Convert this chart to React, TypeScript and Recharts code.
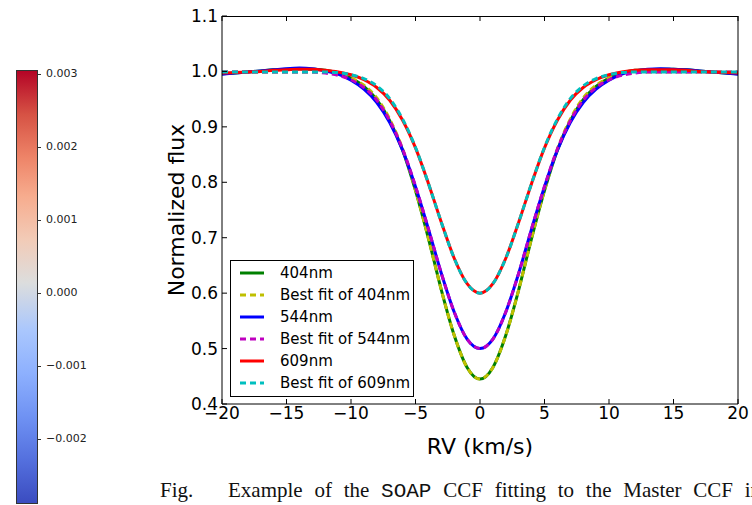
import React from 'react';
import {
  Legend, Line, LineChart, XAxis, YAxis,
} from 'recharts';

// RV grid (km/s)
const rv = [
  -20, -19, -18, -17, -16, -15, -14, -13, -12, -11, -10, -9, -8, -7, -6, -5, -4, -3, -2, -1,
  0, 1, 2, 3, 4, 5, 6, 7, 8, 9, 10, 11, 12, 13, 14, 15, 16, 17, 18, 19, 20,
];

const ccf404 = [
  0.996, 0.997, 0.999, 1.001, 1.003, 1.004, 1.005, 1.004, 1.002, 0.997, 0.988, 0.973, 0.949, 0.911, 0.858, 0.785, 0.699, 0.606, 0.524, 0.466,
  0.445, 0.466, 0.524, 0.606, 0.699, 0.785, 0.858, 0.911, 0.949, 0.973, 0.988, 0.997, 1.002, 1.003, 1.004, 1.004, 1.003, 1.001, 0.999, 0.997, 0.996,
];
const fit404 = [
  0.999, 0.999, 0.999, 0.999, 0.999, 0.999, 0.999, 0.999, 0.998, 0.995, 0.988, 0.975, 0.952, 0.914, 0.860, 0.786, 0.699, 0.606, 0.524, 0.466,
  0.445, 0.466, 0.524, 0.606, 0.699, 0.786, 0.860, 0.914, 0.952, 0.975, 0.988, 0.995, 0.998, 0.999, 0.999, 0.999, 0.999, 0.999, 0.999, 0.999, 0.999,
];

const ccf544 = [
  0.995, 0.997, 0.999, 1.001, 1.003, 1.005, 1.006, 1.005, 1.001, 0.995, 0.984, 0.968, 0.944, 0.908, 0.858, 0.792, 0.716, 0.636, 0.566, 0.517,
  0.500, 0.517, 0.566, 0.636, 0.716, 0.792, 0.858, 0.908, 0.944, 0.968, 0.984, 0.995, 1.001, 1.004, 1.005, 1.004, 1.003, 1.001, 0.999, 0.997, 0.995,
];
const fit544 = [
  0.999, 0.999, 0.999, 0.999, 0.999, 0.999, 0.999, 0.999, 0.997, 0.993, 0.985, 0.971, 0.948, 0.911, 0.860, 0.793, 0.716, 0.636, 0.566, 0.517,
  0.500, 0.517, 0.566, 0.636, 0.716, 0.793, 0.860, 0.911, 0.948, 0.971, 0.985, 0.993, 0.997, 0.999, 0.999, 0.999, 0.999, 0.999, 0.999, 0.999, 0.999,
];

const ccf609 = [
  0.997, 0.998, 0.999, 1.000, 1.002, 1.003, 1.004, 1.004, 1.002, 0.999, 0.994, 0.985, 0.971, 0.948, 0.912, 0.862, 0.798, 0.728, 0.663, 0.617,
  0.600, 0.617, 0.663, 0.728, 0.798, 0.862, 0.912, 0.948, 0.971, 0.985, 0.994, 0.999, 1.002, 1.003, 1.003, 1.003, 1.002, 1.000, 0.999, 0.998, 0.997,
];
const fit609 = [
  0.999, 0.999, 0.999, 0.999, 0.999, 0.999, 0.999, 0.999, 0.999, 0.998, 0.994, 0.987, 0.974, 0.951, 0.914, 0.863, 0.798, 0.728, 0.663, 0.617,
  0.600, 0.617, 0.663, 0.728, 0.798, 0.863, 0.914, 0.951, 0.974, 0.987, 0.994, 0.998, 0.999, 0.999, 0.999, 0.999, 0.999, 0.999, 0.999, 0.999, 0.999,
];

const xTicks = [-20, -15, -10, -5, 0, 5, 10, 15, 20];
const yTicks = [0.4, 0.5, 0.6, 0.7, 0.8, 0.9, 1.0, 1.1];
const cbarTicks = ['0.003', '0.002', '0.001', '0.000', '\u22120.001', '\u22120.002'];

const series = [
  { key: 'ccf404', name: '404nm', color: '#008000', dashed: false },
  { key: 'fit404', name: 'Best fit of 404nm', color: '#bfbf00', dashed: true },
  { key: 'ccf544', name: '544nm', color: '#0000ff', dashed: false },
  { key: 'fit544', name: 'Best fit of 544nm', color: '#bf00bf', dashed: true },
  { key: 'ccf609', name: '609nm', color: '#ff0000', dashed: false },
  { key: 'fit609', name: 'Best fit of 609nm', color: '#00bfbf', dashed: true },
];

const data = rv.map((x, i) => ({
  rv: x,
  ccf404: ccf404[i],
  fit404: fit404[i],
  ccf544: ccf544[i],
  fit544: fit544[i],
  ccf609: ccf609[i],
  fit609: fit609[i],
}));

// chart box and plot frame
const W = 752;
const H = 505;
const margin = {
  top: 16, right: 13, bottom: 41, left: 162,
};
const yAxisW = 60;
const rightAxisW = 1;
const plotLeft = margin.left + yAxisW;
const plotRight = W - margin.right - rightAxisW;
const plotTop = margin.top;

const font = '"DejaVu Sans", sans-serif';
const minus = (v: number) => String(v).replace('-', '\u2212');

const renderLegend = () => (
  <div
    style={{
      border: '1px solid #000',
      background: '#fff',
      width: 184,
      height: 137,
      boxSizing: 'border-box',
      paddingTop: 1,
      fontFamily: font,
      fontSize: 15,
      color: '#000',
    }}
  >
    {series.map((s) => (
      <div key={s.key} style={{ height: 22, display: 'flex', alignItems: 'center' }}>
        <svg width={49} height={22} style={{ flex: 'none' }}>
          <line
            x1={9}
            x2={33}
            y1={11}
            y2={11}
            stroke={s.color}
            strokeWidth={3}
            strokeDasharray={s.dashed ? '6 4' : undefined}
          />
        </svg>
        <span style={{ whiteSpace: 'nowrap' }}>{s.name}</span>
      </div>
    ))}
  </div>
);

const Colorbar = () => (
  <div style={{ position: 'absolute', left: 16, top: 70 }}>
    <div
      style={{
        width: 22,
        height: 434,
        boxSizing: 'border-box',
        border: '1px solid #333',
        background: 'linear-gradient(to top, #3b4cc0 0%, #5470de 10%, #6f92f3 20%, #8db0fe 30%, #aac7fd 40%, #dcdddd 51%, #f2cbb7 61%, #f7ac8e 71%, #ee8468 80%, #d65244 90%, #b40426 100%)',
      }}
    />
    {cbarTicks.map((t, i) => (
      <div key={t} style={{ position: 'absolute', left: 22, top: 4 + i * 73, height: 0 }}>
        <div style={{ position: 'absolute', left: 0, top: 0, width: 3, borderTop: '1px solid #333' }} />
        <div
          style={{
            position: 'absolute',
            left: 8,
            top: -7,
            fontFamily: font,
            fontSize: 11,
            lineHeight: '13px',
            color: '#222',
            whiteSpace: 'nowrap',
          }}
        >
          {t}
        </div>
      </div>
    ))}
  </div>
);

// top spine with inward ticks (matplotlib box style)
const TopSpine = () => {
  const sx = (t: number) => plotLeft + ((t - xTicks[0]) / (xTicks[xTicks.length - 1] - xTicks[0])) * (plotRight - plotLeft);
  return (
    <svg width={W} height={H} style={{ position: 'absolute', left: 0, top: 0, pointerEvents: 'none' }}>
      <line x1={plotLeft} x2={plotRight} y1={plotTop + 0.5} y2={plotTop + 0.5} stroke="#000" />
      {xTicks.map((t) => (
        <line key={t} x1={sx(t)} x2={sx(t)} y1={plotTop} y2={plotTop + 5} stroke="#000" />
      ))}
    </svg>
  );
};

const captionStyle: React.CSSProperties = {
  position: 'absolute',
  top: 479,
  fontFamily: '"Liberation Serif", serif',
  fontSize: 21,
  lineHeight: '23px',
  color: '#111',
  whiteSpace: 'nowrap',
};

export default function App() {
  return (
    <div style={{
      position: 'absolute', left: 0, top: 0, width: W, height: H, background: '#fff', overflow: 'hidden',
    }}
    >
      <Colorbar />
      <LineChart
        width={W}
        height={H}
        data={data}
        margin={margin}
        style={{ position: 'absolute', left: 0, top: 0 }}
      >
        <XAxis
          dataKey="rv"
          type="number"
          domain={[-20, 20]}
          ticks={xTicks}
          tickFormatter={minus}
          height={60}
          tickLine={{ stroke: '#000' }}
          tickSize={-5}
          tickMargin={8}
          stroke="#000"
          tick={{ fill: '#000', fontSize: 17, fontFamily: font }}
          label={{
            value: 'RV (km/s)', position: 'center', dy: 12, fill: '#000', fontSize: 22, fontFamily: font,
          }}
        />
        <YAxis
          type="number"
          domain={[0.4, 1.1]}
          allowDataOverflow
          ticks={yTicks}
          tickFormatter={(v: number) => v.toFixed(1)}
          width={yAxisW}
          tickLine={{ stroke: '#000' }}
          tickSize={-5}
          tickMargin={9}
          stroke="#000"
          tick={{ fill: '#000', fontSize: 17, fontFamily: font }}
          label={{
            value: 'Normalized flux', angle: -90, position: 'center', dx: -16, fill: '#000', fontSize: 22, fontFamily: font,
          }}
        />
        <YAxis
          yAxisId="right"
          orientation="right"
          type="number"
          domain={[0.4, 1.1]}
          ticks={yTicks}
          width={rightAxisW}
          tickLine={{ stroke: '#000' }}
          tickSize={-5}
          tickFormatter={() => ''}
          stroke="#000"
        />
        <Legend
          layout="horizontal"
          verticalAlign="middle"
          align="center"
          content={renderLegend}
          wrapperStyle={{ left: 230, top: 260, width: 184 }}
        />
        {series.map((s) => (
          <Line
            key={s.key}
            type="monotone"
            dataKey={s.key}
            name={s.name}
            stroke={s.color}
            strokeWidth={3}
            strokeDasharray={s.dashed ? '6 4' : undefined}
            dot={false}
            isAnimationActive={false}
          />
        ))}
      </LineChart>
      <TopSpine />
      <div style={{ ...captionStyle, left: 160 }}>Fig.</div>
      <div style={{ ...captionStyle, left: 228, wordSpacing: 6.5 }}>
        Example of the
        {' '}
        <span style={{ fontFamily: '"Liberation Mono", monospace' }}>SOAP</span>
        {' '}
        CCF fitting to the Master CCF in
      </div>
    </div>
  );
}
